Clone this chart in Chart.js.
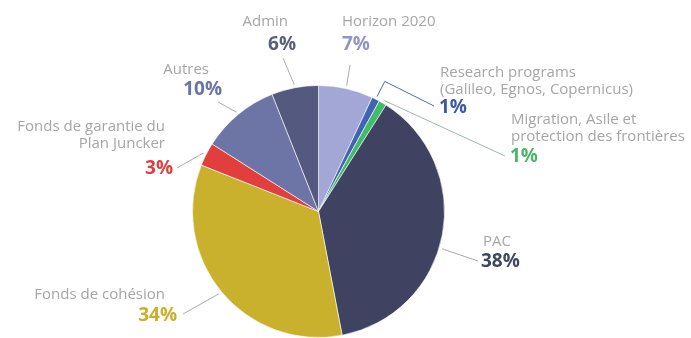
<!DOCTYPE html>
<html>
<head>
<meta charset="utf-8">
<script src="https://cdn.jsdelivr.net/npm/chart.js@4"></script>
<style>
  html, body { margin: 0; padding: 0; background: #fff; overflow: hidden; }
</style>
</head>
<body>
<canvas id="budget" width="691" height="338"></canvas>
<script>
// EU budget split, clockwise from 12 o'clock
const categories = ["Horizon 2020", "Research programs", "Migration", "PAC",
  "Fonds de cohésion", "Fonds de garantie", "Autres", "Admin"];
const shares = [7, 1, 1, 38, 34, 3, 10, 6];
const nameLines = [
  ["Horizon 2020"],
  ["Research programs", "(Galileo, Egnos, Copernicus)"],
  ["Migration, Asile et", "protection des frontières"],
  ["PAC"],
  ["Fonds de cohésion"],
  ["Fonds de garantie du", "Plan Juncker"],
  ["Autres"],
  ["Admin"]
];
const pctLabels = shares.map(v => v + "%");

const sliceColors = ["#a2a7d6", "#4263b3", "#40bb6c", "#3f4361", "#c9b12d", "#e13e3e", "#6d75a6", "#545a7f"];
const textColors  = ["#8f95c9", "#3d5aa6", "#4cb66b", "#41465f", "#c8b02a", "#e0403f", "#6a73a8", "#5b6079"];

// where each outside label sits (leader end + text anchors)
const labelLayout = [
  { end: [350, 65],  name: [342, 22, "left"],  pct: [342, 45, "left"] },
  { elbow: 20, end: [434, 106], name: [440, 73, "left"], pct: [439, 108, "left"] },
  { end: [505, 156], name: [511, 120, "left"], pct: [510, 157, "left"] },
  { shift: 6, end: [478, 261], name: [483, 242, "left"], pct: [481, 262, "left"] },
  { end: [183, 314], name: [165, 295, "right"], pct: [177, 316, "right"] },
  { end: [177, 168], name: [165, 127, "right"], pct: [173, 169, "right"] },
  { end: [218, 102], name: [209, 70, "right"], pct: [222, 90, "right"] },
  { end: [283, 58],  name: [288, 22, "right"], pct: [296, 45, "right"] }
];

const outsideLabels = {
  id: "outsideLabels",
  afterDatasetsDraw(chart) {
    const ctx = chart.ctx;
    const arcs = chart.getDatasetMeta(0).data;
    ctx.save();
    arcs.forEach((arc, i) => {
      const lay = labelLayout[i];
      const { x, y, startAngle, endAngle, outerRadius } = arc.getProps(["x", "y", "startAngle", "endAngle", "outerRadius"], true);
      const a = (startAngle + endAngle) / 2 + (lay.shift || 0) * Math.PI / 180;
      const r0 = outerRadius + 3;

      // leader line
      ctx.beginPath();
      ctx.strokeStyle = i === 1 ? "#4a66b0" : (i === 2 ? "#9fb8a6" : "#a9a9a9");
      ctx.lineWidth = 1;
      ctx.moveTo(x + Math.cos(a) * r0, y + Math.sin(a) * r0);
      if (lay.elbow) {
        const r1 = outerRadius + lay.elbow;
        ctx.lineTo(x + Math.cos(a) * r1, y + Math.sin(a) * r1);
      }
      ctx.lineTo(lay.end[0], lay.end[1]);
      ctx.stroke();

      // category name
      ctx.font = "15px 'Open Sans'";
      ctx.fillStyle = "#a6a6a6";
      ctx.textBaseline = "middle";
      ctx.textAlign = lay.name[2];
      nameLines[i].forEach((line, k) => {
        ctx.fillText(line, lay.name[0], lay.name[1] + k * 17);
      });

      // percentage
      ctx.font = "bold 19px 'Open Sans'";
      ctx.fillStyle = textColors[i];
      ctx.textAlign = lay.pct[2];
      ctx.fillText(pctLabels[i], lay.pct[0], lay.pct[1]);
    });
    ctx.restore();
  }
};

new Chart(document.getElementById("budget"), {
  type: "pie",
  data: {
    labels: categories,
    datasets: [{
      data: shares,
      backgroundColor: sliceColors,
      borderColor: "rgba(255,255,255,0.6)",
      borderWidth: 1
    }]
  },
  options: {
    responsive: false,
    animation: false,
    layout: { padding: { top: 85, bottom: 0, left: 192, right: 246 } },
    plugins: {
      legend: { display: false },
      tooltip: { enabled: false }
    }
  },
  plugins: [outsideLabels]
});
</script>
</body>
</html>
